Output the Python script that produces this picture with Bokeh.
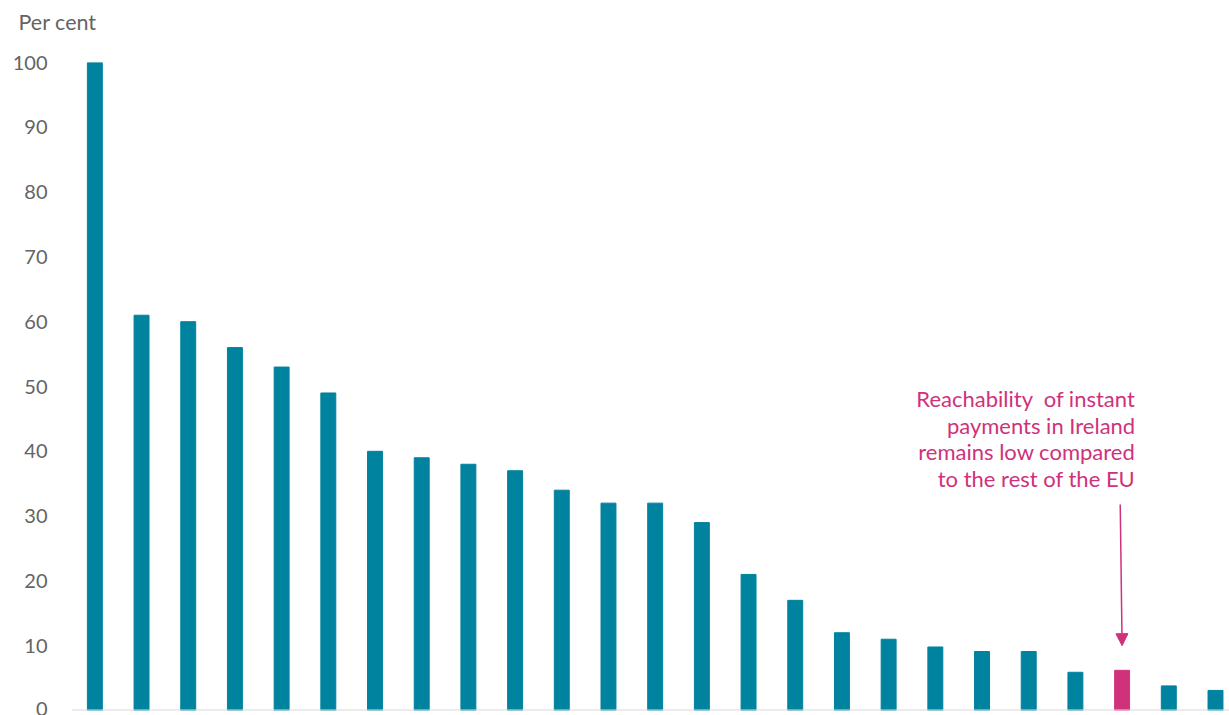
from bokeh.plotting import figure
from bokeh.models import Range1d, FixedTicker, Span, Title, Arrow, NormalHead, ColumnDataSource
from bokeh.core.properties import value
from bokeh.embed import file_html
from bokeh.resources import INLINE

# Reachability of instant payments by country, ranked (per cent)
rank = list(range(25))
reach = [100, 61, 60, 56, 53, 49, 40, 39, 38, 37, 34, 32, 32, 29, 21, 17,
         12, 11, 9.8, 9.1, 9.1, 5.9, 6.2, 3.8, 3.1]
highlight_index = 22  # Ireland
y_ticks = [0, 10, 20, 30, 40, 50, 60, 70, 80, 90, 100]

note_lines = ["Reachability\u00a0 of instant", "payments in Ireland",
              "remains low compared", "to the rest of the EU"]

TEAL = "#00839F"
PINK = "#D0317B"
GREY = "#646464"
FONT = "Lato"
W, H = 1229, 715

colors = [PINK if i == highlight_index else TEAL for i in rank]
src = ColumnDataSource(dict(x=rank, top=reach, color=colors))

p = figure(width=W, height=H, output_backend="svg", toolbar_location=None,
           x_range=Range1d(-0.5, 24.3), y_range=Range1d(0, 100),
           min_border_left=71, min_border_right=0, min_border_top=62,
           min_border_bottom=5)
p.outline_line_color = None
p.background_fill_color = "white"
p.border_fill_color = "white"
p.grid.visible = False
p.xaxis.visible = False

# unit label above the axis (trailing blank line lifts it to the top edge)
p.title = Title(text="Per cent\n", align="left", offset=-53, vertical_align="top",
                standoff=0, text_font=FONT, text_font_size="21.5px",
                text_font_style="normal", text_color=GREY)

yax = p.yaxis[0]
yax.ticker = FixedTicker(ticks=y_ticks)
yax.axis_line_color = None
yax.major_tick_line_color = None
yax.minor_tick_line_color = None
yax.major_tick_out = 0
yax.major_label_standoff = 24
yax.major_label_text_font = FONT
yax.major_label_text_font_size = "20px"
yax.major_label_text_color = GREY

p.vbar(x="x", top="top", width=0.32, bottom=0, color="color", source=src)

# baseline
p.add_layout(Span(location=0, dimension="width", line_color="#D9D9D9", line_width=2))

# annotation for the highlighted bar
note_y = [48.1, 44.0, 39.9, 35.8]
p.text(x=[22.28] * 4, y=note_y, text=note_lines, text_font=value(FONT),
       text_font_size="22px", text_color=PINK, text_align="right",
       text_baseline="alphabetic")

p.add_layout(Arrow(end=NormalHead(size=12, fill_color=PINK, line_color=PINK),
                   x_start=21.96, y_start=31.8, x_end=highlight_index, y_end=10.0,
                   line_color=PINK, line_width=1.5))

open("out.html", "w").write(file_html(p, INLINE))
